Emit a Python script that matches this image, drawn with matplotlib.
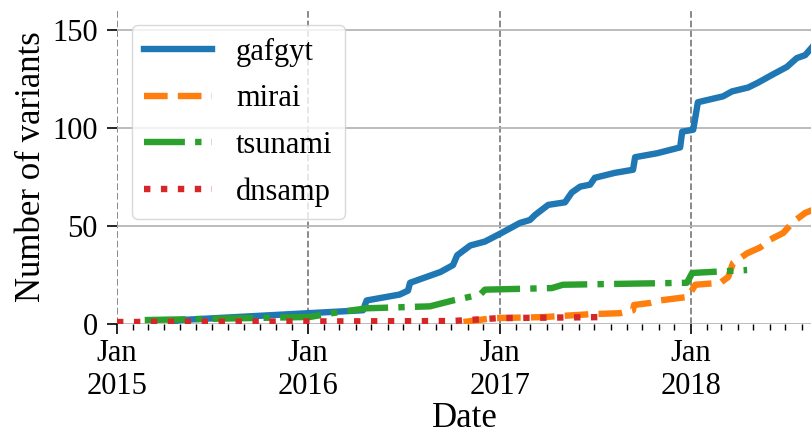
import numpy as np
import pandas as pd
import matplotlib
matplotlib.use("Agg")
import matplotlib.pyplot as plt
import matplotlib.dates as mdates

plt.rcParams['font.family'] = ['Liberation Serif', 'DejaVu Serif']

# cumulative number of variants per family
gafgyt_dates = ['2015-04-15', '2015-05-01', '2015-09-18', '2016-01-01', '2016-04-15',
                '2016-04-22', '2016-06-24', '2016-07-10', '2016-07-14', '2016-09-10',
                '2016-10-04', '2016-10-12', '2016-11-06', '2016-12-04', '2017-01-02',
                '2017-02-09', '2017-02-28', '2017-03-10', '2017-04-04', '2017-05-06',
                '2017-05-19', '2017-06-04', '2017-06-23', '2017-07-02', '2017-08-09',
                '2017-09-13', '2017-09-17', '2017-10-29', '2017-12-12', '2017-12-16',
                '2018-01-06', '2018-01-15', '2018-03-04', '2018-03-21', '2018-04-21',
                '2018-05-10', '2018-06-06', '2018-07-04', '2018-07-23', '2018-08-08',
                '2018-08-21']
gafgyt_vals = [1, 2, 4, 5.5, 7,
               12, 15, 17, 21, 26.5,
               30, 35, 40, 42, 46,
               51.5, 53, 55.6, 60.7, 62,
               67, 70, 71, 74.5, 77,
               78.6, 85, 87, 90, 98,
               99, 113, 116, 118.5, 120.5,
               123, 127, 131, 135.5, 137,
               141]

mirai_dates = ['2016-10-24', '2016-12-20', '2017-03-25', '2017-06-23', '2017-08-19',
               '2017-09-13', '2017-09-15', '2017-10-15', '2017-11-03', '2017-12-27',
               '2018-01-10', '2018-02-27', '2018-03-14', '2018-03-23', '2018-04-19',
               '2018-05-14', '2018-06-02', '2018-06-27', '2018-07-16', '2018-08-08',
               '2018-08-21']
mirai_vals = [1, 3, 3.5, 5, 5.5,
              7, 9.7, 10.7, 12, 13.8,
              20, 21, 24, 31, 36,
              39, 43, 46.4, 52, 56.6,
              58]

tsunami_dates = ['2015-02-23', '2016-01-05', '2016-02-18', '2016-04-22', '2016-08-21',
                 '2016-10-04', '2016-11-25', '2016-12-04', '2017-04-11', '2017-05-02',
                 '2017-12-25', '2018-01-04', '2018-04-19']
tsunami_vals = [2, 3.6, 5.6, 8, 9,
                12, 15, 17.5, 18.3, 20,
                21, 26, 27.5]

dnsamp_dates = ['2015-01-01', '2016-10-01', '2017-01-01', '2017-07-12']
dnsamp_vals = [1, 1.5, 3, 3.5]

series = [
    ('gafgyt', gafgyt_dates, gafgyt_vals, '#1f77b4', '-'),
    ('mirai', mirai_dates, mirai_vals, '#ff7f0e', '--'),
    ('tsunami', tsunami_dates, tsunami_vals, '#2ca02c', '-.'),
    ('dnsamp', dnsamp_dates, dnsamp_vals, '#d62728', ':'),
]

fig = plt.figure(figsize=(8.12, 4.36), dpi=100)
ax = fig.add_axes([117 / 812, 112 / 436, 695 / 812, 314 / 436])

for name, d, v, c, ls in series:
    ax.plot(pd.to_datetime(d), v, color=c, linestyle=ls, lw=4.6, label=name)

ax.set_xlim(pd.Timestamp('2015-01-01'), pd.Timestamp('2018-08-21'))
ax.set_ylim(0, 160)
ax.set_yticks([0, 50, 100, 150])

ax.xaxis.set_major_locator(mdates.YearLocator())
ax.xaxis.set_major_formatter(mdates.DateFormatter('%b\n%Y'))
ax.xaxis.set_minor_locator(mdates.MonthLocator())

ax.grid(axis='y', color='#b0b0b0', lw=1.2, ls='-')
ax.grid(axis='x', which='major', color='#808080', lw=1.3, ls='--')
ax.set_axisbelow(True)
for s in ax.spines.values():
    s.set_visible(False)

ax.tick_params(axis='both', which='major', labelsize=22, length=7, width=1.2, color='black')
ax.tick_params(axis='y', pad=7)
ax.tick_params(axis='x', which='minor', length=4, width=1)

ax.set_xlabel('Date', fontsize=25, labelpad=1)
ax.set_ylabel('Number of variants', fontsize=25, labelpad=3)

ax.legend(loc='upper left', fontsize=22, framealpha=0.8, edgecolor='#d0d0d0',
          handlelength=2.2, borderaxespad=0.5, labelspacing=0.58)

fig.savefig('out.png', dpi=100)
